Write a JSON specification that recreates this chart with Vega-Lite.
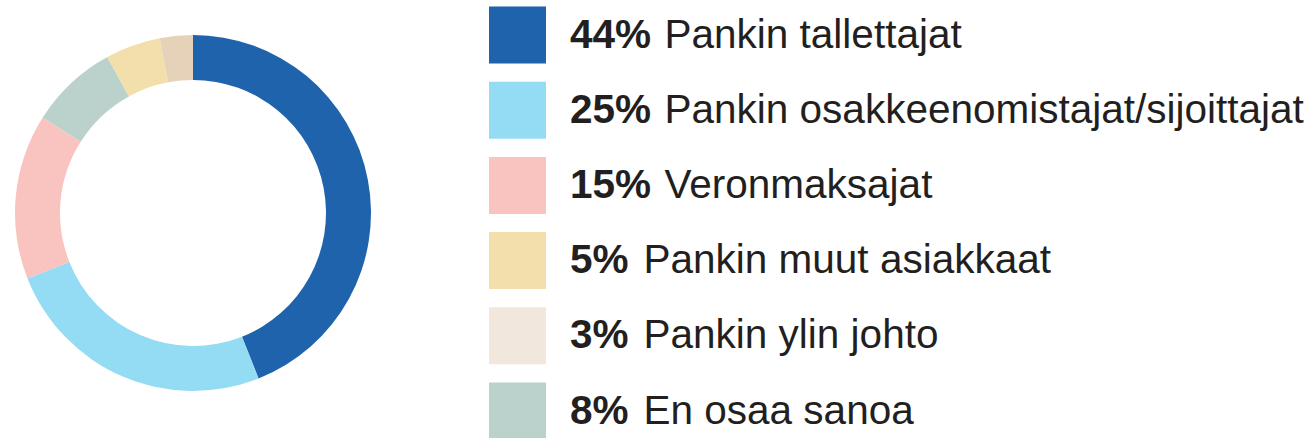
{
  "$schema": "https://vega.github.io/schema/vega-lite/v6.json",
  "background": "white",
  "padding": 0,
  "spacing": 103,
  "config": {"view": {"stroke": null}, "font": "Liberation Sans"},
  "data": {"values": [
    {"name": "Pankin tallettajat", "value": 44, "pct": "44%", "order": 1},
    {"name": "Pankin osakkeenomistajat/sijoittajat", "value": 25, "pct": "25%", "order": 2},
    {"name": "Veronmaksajat", "value": 15, "pct": "15%", "order": 3},
    {"name": "En osaa sanoa", "value": 8, "pct": "8%", "order": 4},
    {"name": "Pankin muut asiakkaat", "value": 5, "pct": "5%", "order": 5},
    {"name": "Pankin ylin johto", "value": 3, "pct": "3%", "order": 6}
  ]},
  "resolve": {"scale": {"color": "independent"}},
  "hconcat": [
    {
      "width": 386,
      "height": 426,
      "mark": {"type": "arc", "innerRadius": 133, "outerRadius": 178},
      "encoding": {
        "theta": {"field": "value", "type": "quantitative", "stack": true},
        "order": {"field": "order", "type": "quantitative"},
        "color": {
          "field": "name", "type": "nominal", "legend": null,
          "scale": {
            "domain": ["Pankin tallettajat", "Pankin osakkeenomistajat/sijoittajat", "Veronmaksajat", "En osaa sanoa", "Pankin muut asiakkaat", "Pankin ylin johto"],
            "range": ["#1f63ad", "#93dcf4", "#f9c4bf", "#bad2cb", "#f3dfab", "#e5d2b9"]
          }
        }
      }
    },
    {
      "width": 825,
      "height": 438,
      "encoding": {
        "y": {
          "field": "name", "type": "nominal", "axis": null,
          "scale": {
            "type": "point", "padding": 0, "range": [35, 411],
            "domain": ["Pankin tallettajat", "Pankin osakkeenomistajat/sijoittajat", "Veronmaksajat", "Pankin muut asiakkaat", "Pankin ylin johto", "En osaa sanoa"]
          }
        }
      },
      "layer": [
        {
          "mark": {"type": "point", "shape": "square", "filled": true, "size": 3249, "opacity": 1, "strokeWidth": 0},
          "encoding": {
            "x": {"datum": "swatch", "type": "nominal", "axis": null, "scale": {"type": "point", "padding": 0, "domain": ["swatch", "text"], "range": [28.5, 81]}},
            "color": {
              "field": "name", "type": "nominal", "legend": null,
              "scale": {
                "domain": ["Pankin tallettajat", "Pankin osakkeenomistajat/sijoittajat", "Veronmaksajat", "Pankin muut asiakkaat", "Pankin ylin johto", "En osaa sanoa"],
                "range": ["#1f63ad", "#93dcf4", "#f9c4bf", "#f3dfab", "#f1e7dc", "#bad2cb"]
              }
            }
          }
        },
        {
          "mark": {"type": "text", "align": "left", "baseline": "alphabetic", "dy": 12.5, "fontSize": 40.5, "font": "Liberation Sans", "fontWeight": "bold", "color": "#231f20"},
          "encoding": {
            "x": {"datum": "text", "type": "nominal", "axis": null, "scale": {"type": "point", "padding": 0, "domain": ["swatch", "text"], "range": [28.5, 81]}},
            "text": {"field": "pct", "type": "nominal"}
          }
        },
        {
          "transform": [{"filter": "datum.value >= 10"}],
          "mark": {"type": "text", "align": "left", "baseline": "alphabetic", "dx": 94.5, "dy": 12.5, "fontSize": 40.5, "font": "Liberation Sans", "color": "#231f20"},
          "encoding": {
            "x": {"datum": "text", "type": "nominal", "axis": null, "scale": {"type": "point", "padding": 0, "domain": ["swatch", "text"], "range": [28.5, 81]}},
            "text": {"field": "name", "type": "nominal"}
          }
        },
        {
          "transform": [{"filter": "datum.value < 10"}],
          "mark": {"type": "text", "align": "left", "baseline": "alphabetic", "dx": 73.5, "dy": 12.5, "fontSize": 40.5, "font": "Liberation Sans", "color": "#231f20"},
          "encoding": {
            "x": {"datum": "text", "type": "nominal", "axis": null, "scale": {"type": "point", "padding": 0, "domain": ["swatch", "text"], "range": [28.5, 81]}},
            "text": {"field": "name", "type": "nominal"}
          }
        }
      ]
    }
  ]
}
